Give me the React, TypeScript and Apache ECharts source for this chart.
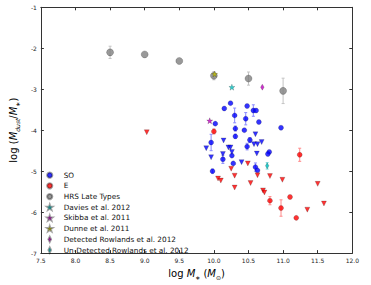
import React, { useEffect, useRef } from "react";
import * as echarts from "echarts";

// ---- data ----
const hrsX = [8.5, 9.0, 9.5, 10.0, 10.5, 11.0];
const hrsY = [-2.10, -2.15, -2.31, -2.67, -2.74, -3.04];
const hrsErr = [0.15, 0.0, 0.0, 0.10, 0.16, 0.31];

const soX = [10.24, 10.15, 10.48, 10.57, 10.61, 10.30, 10.46, 10.02, 10.65, 10.31, 10.44, 10.97, 10.31, 10.52, 9.96, 10.48, 10.26, 10.13, 10.28, 10.80, 10.78, 10.60, 10.63, 9.98];
const soY = [-3.34, -3.47, -3.41, -3.52, -3.52, -3.64, -3.72, -3.84, -3.80, -3.96, -4.00, -3.94, -4.15, -4.24, -4.30, -4.40, -4.62, -4.71, -4.81, -4.53, -4.58, -4.90, -4.98, -5.00];
const soErr = [0, 0, 0, 0.14, 0, 0.18, 0.15, 0, 0, 0.06, 0, 0, 0.05, 0.06, 0.2, 0.08, 0, 0.1, 0, 0, 0, 0.1, 0, 0.05];

const soLimX = [10.14, 9.89, 9.96, 10.13, 10.21, 10.24, 10.26, 10.40, 10.60, 10.58, 10.63, 10.69, 10.62];
const soLimY = [-4.25, -4.44, -4.66, -4.58, -4.42, -4.42, -4.53, -4.78, -4.10, -4.34, -4.34, -4.29, -4.57];

const eX = [10.0, 11.24, 10.81, 11.10, 10.97, 11.19];
const eY = [-4.03, -4.60, -5.72, -5.63, -5.90, -6.14];
const eErr = [0.06, 0.16, 0.1, 0, 0.2, 0];

const eLimX = [9.03, 10.25, 10.49, 10.06, 10.10, 10.30, 10.63, 10.81, 10.99, 10.30, 10.53, 10.71, 10.73, 11.50, 11.59, 11.35];
const eLimY = [-4.05, -4.94, -4.81, -5.18, -5.23, -5.11, -5.10, -5.12, -5.21, -5.40, -5.29, -5.47, -5.52, -5.31, -5.79, -5.94];

const daviesPt = [10.26, -2.95];
const skibbaPt = [9.94, -3.77];
const dunnePt = [10.01, -2.63];
const rowDetPt = [10.70, -2.95];
const rowUndetPt = [10.77, -4.87];
const rowUndetErr = 0.08;

const xTickLabels = ["7.5", "8.0", "8.5", "9.0", "9.5", "10.0", "10.5", "11.0", "11.5", "12.0"];
const yTickLabels = ["-7", "-6", "-5", "-4", "-3", "-2", "-1"];

const legendNames = [
  "SO",
  "E",
  "HRS Late Types",
  "Davies et al. 2012",
  "Skibba et al. 2011",
  "Dunne et al. 2011",
  "Detected Rowlands et al. 2012",
  "Un-Detected Rowlands et al. 2012",
];

const STAR =
  "path://M0,-10L2.35,-3.24L9.51,-3.09L3.8,1.24L5.88,8.09L0,4L-5.88,8.09L-3.8,1.24L-9.51,-3.09L-2.35,-3.24Z";
const THIN_DIAMOND = "path://M0,-10L5,0L0,10L-5,0Z";

const FONT = "DejaVu Sans";

function zip(xs: number[], ys: number[], es?: number[]) {
  return xs.map((x, i) => (es ? [x, ys[i], es[i]] : [x, ys[i]]));
}

function errSeries(data: number[][], color: string) {
  return {
    type: "custom",
    silent: true,
    z: 1,
    data: data.filter((d) => d[2] > 0),
    renderItem: (params: any, api: any) => {
      const x = api.value(0);
      const y = api.value(1);
      const e = api.value(2);
      const p1 = api.coord([x, y - e]);
      const p2 = api.coord([x, y + e]);
      const c = 1.5;
      const style = { stroke: color, lineWidth: 1 };
      return {
        type: "group",
        children: [
          { type: "line", shape: { x1: p1[0], y1: p1[1], x2: p2[0], y2: p2[1] }, style },
          { type: "line", shape: { x1: p1[0] - c, y1: p1[1], x2: p1[0] + c, y2: p1[1] }, style },
          { type: "line", shape: { x1: p2[0] - c, y1: p2[1], x2: p2[0] + c, y2: p2[1] }, style },
        ],
      };
    },
  };
}

const edge = { borderColor: "rgba(0,0,0,0.45)", borderWidth: 0.5 };

export default function App() {
  const ref = useRef<HTMLDivElement>(null);
  useEffect(() => {
    if (!ref.current) return;
    const chart = echarts.init(ref.current, undefined, { renderer: "svg" });
    const axisCommon = {
      axisLine: { show: true, lineStyle: { color: "#333", width: 1 } },
      axisTick: { show: true, inside: true, length: 3, lineStyle: { color: "#333" } },
      splitLine: { show: false },
    };
    const titleRich = {
      n: { fontFamily: FONT, fontSize: 10, color: "#000", lineHeight: 14 },
      i: { fontFamily: FONT, fontSize: 10, fontStyle: "italic", color: "#000", lineHeight: 14 },
      s: { fontFamily: FONT, fontSize: 6, fontStyle: "italic", color: "#000", lineHeight: 14, verticalAlign: "bottom" },
    };
    const option: any = {
      animation: false,
      backgroundColor: "#fff",
      textStyle: { fontFamily: FONT },
      grid: { left: 36.7, right: 18.7, top: 7.3, bottom: 25.7 },
      legend: {
        data: [
          { name: legendNames[0], icon: "circle" },
          { name: legendNames[1], icon: "circle" },
          { name: legendNames[2], icon: "circle" },
          { name: legendNames[3], icon: STAR },
          { name: legendNames[4], icon: STAR },
          { name: legendNames[5], icon: STAR },
          { name: legendNames[6], icon: THIN_DIAMOND },
          { name: legendNames[7], icon: THIN_DIAMOND },
        ],
        orient: "vertical",
        left: 46,
        top: 169.8,
        itemWidth: 10,
        itemHeight: 5.2,
        itemGap: 0,
        padding: 0,
        textStyle: { fontFamily: FONT, fontSize: 7.3, color: "#111", lineHeight: 10.7, height: 10.7, padding: [0, 0, 0, 4] },
        selectedMode: false,
      },
      xAxis: [
        {
          type: "value",
          min: 7.5,
          max: 12,
          interval: 0.5,
          position: "bottom",
          ...axisCommon,
          axisLabel: {
            fontSize: 6,
            color: "#222",
            margin: 4,
            formatter: (v: number) => xTickLabels[Math.round((v - 7.5) / 0.5)] ?? "",
          },
          name: "{n|log }{i|M}{s|∗}{n| (}{i|M}{s|⊙}{n|)}",
          nameLocation: "middle",
          nameGap: 8,
          nameTextStyle: { rich: titleRich },
        },
        {
          type: "value",
          min: 7.5,
          max: 12,
          interval: 0.5,
          position: "top",
          ...axisCommon,
          axisLabel: { show: false },
        },
      ],
      yAxis: [
        {
          type: "value",
          min: -7,
          max: -1,
          interval: 1,
          position: "left",
          ...axisCommon,
          axisLabel: {
            fontSize: 6,
            color: "#222",
            margin: 4,
            formatter: (v: number) => yTickLabels[Math.round(v + 7)] ?? "",
          },
          name: "{n|log (}{i|M}{s|dust}{n|/}{i|M}{s|∗}{n|)}",
          nameLocation: "middle",
          nameGap: 11,
          nameTextStyle: { rich: titleRich },
        },
        {
          type: "value",
          min: -7,
          max: -1,
          interval: 1,
          position: "right",
          ...axisCommon,
          axisLabel: { show: false },
        },
      ],
      series: [
        errSeries(zip(hrsX, hrsY, hrsErr), "#c4c4c4"),
        errSeries(zip(soX, soY, soErr), "#8a8aff"),
        errSeries(zip(eX, eY, eErr), "#ff8a8a"),
        errSeries([[rowUndetPt[0], rowUndetPt[1], rowUndetErr]], "#80dfdf"),
        {
          name: legendNames[2],
          type: "scatter",
          symbol: "circle",
          symbolSize: 7,
          itemStyle: { color: "#808080", ...edge },
          data: zip(hrsX, hrsY),
          z: 2,
        },
        {
          name: legendNames[0],
          type: "scatter",
          symbol: "circle",
          symbolSize: 5,
          itemStyle: { color: "#0000ff", ...edge },
          data: zip(soX, soY),
          z: 3,
        },
        {
          name: "SO limits",
          type: "scatter",
          symbol: "triangle",
          symbolRotate: 180,
          symbolSize: 5,
          itemStyle: { color: "#0000ff", ...edge },
          data: zip(soLimX, soLimY),
          z: 3,
        },
        {
          name: legendNames[1],
          type: "scatter",
          symbol: "circle",
          symbolSize: 5,
          itemStyle: { color: "#ff0000", ...edge },
          data: zip(eX, eY),
          z: 3,
        },
        {
          name: "E limits",
          type: "scatter",
          symbol: "triangle",
          symbolRotate: 180,
          symbolSize: 5,
          itemStyle: { color: "#ff0000", ...edge },
          data: zip(eLimX, eLimY),
          z: 3,
        },
        {
          name: legendNames[3],
          type: "scatter",
          symbol: STAR,
          symbolSize: 6,
          itemStyle: { color: "#00bfbf", ...edge },
          data: [daviesPt],
          z: 4,
        },
        {
          name: legendNames[4],
          type: "scatter",
          symbol: STAR,
          symbolSize: 6,
          itemStyle: { color: "#bf00bf", ...edge },
          data: [skibbaPt],
          z: 4,
        },
        {
          name: legendNames[5],
          type: "scatter",
          symbol: STAR,
          symbolSize: 6,
          itemStyle: { color: "#bfbf00", ...edge },
          data: [dunnePt],
          z: 4,
        },
        {
          name: legendNames[6],
          type: "scatter",
          symbol: THIN_DIAMOND,
          symbolSize: [3.5, 6],
          itemStyle: { color: "#bf00bf", ...edge },
          data: [rowDetPt],
          z: 4,
        },
        {
          name: legendNames[7],
          type: "scatter",
          symbol: THIN_DIAMOND,
          symbolSize: [3.5, 6],
          itemStyle: { color: "#00bfbf", ...edge },
          data: [rowUndetPt],
          z: 4,
        },
      ],
    };
    chart.setOption(option);
    return () => chart.dispose();
  }, []);
  return (
    <div
      ref={ref}
      style={{ position: "absolute", left: 0, top: 0, width: 371, height: 285, background: "#fff" }}
    />
  );
}
